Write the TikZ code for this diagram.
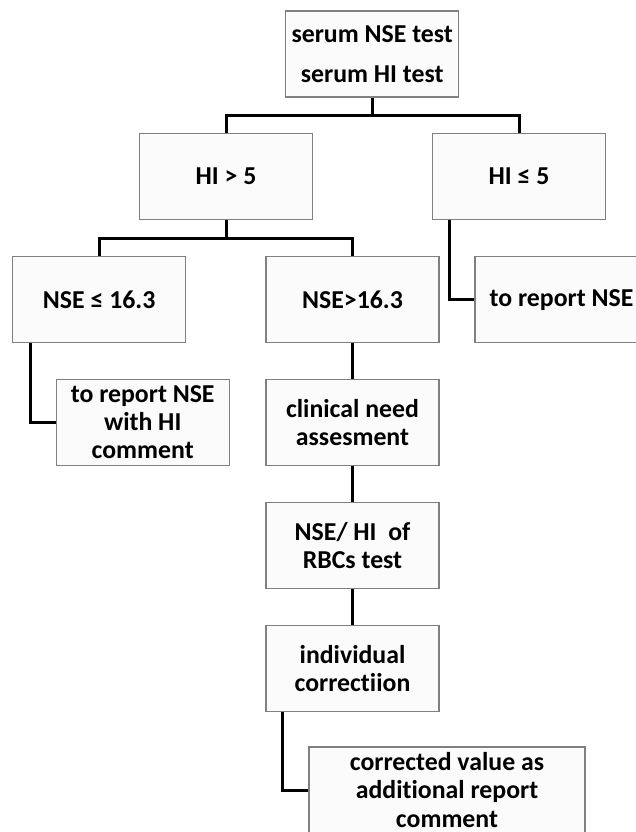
\documentclass[tikz,border=0pt]{standalone}
\usepackage{fontspec}
\setmainfont{Carlito}[Ligatures=NoCommon]
\definecolor{boxline}{HTML}{808080}
\definecolor{boxfill}{HTML}{FBFBFB}
\begin{document}
\begin{tikzpicture}[x=1pt,y=-1pt,
  stepbox/.style={draw=boxline, fill=boxfill, line width=1.2pt, rectangle,
    minimum width=173pt, minimum height=86pt, inner sep=0pt, align=center,
    font=\fontsize{25.8}{28.2}\selectfont\bfseries},
  link/.style={draw=black, line width=3pt}]
\useasboundingbox (0,0) rectangle (636,832);
\clip (0,0) rectangle (636,832);
\node[stepbox] (top) at (372.2,54) {serum NSE test\\[11.8pt]serum HI test};
\node[stepbox] (hi5) at (226,176.6) {HI > 5};
\node[stepbox] (hile5) at (519,176.6) {HI ≤ 5};
\node[stepbox] (nsele) at (99.2,299.6) {NSE ≤ 16.3};
\node[stepbox] (nsegt) at (352.5,299.6) {NSE>16.3};
\node[stepbox] (rep) at (561.5,299.6) {to report NSE};
\node[stepbox] (rephi) at (142.7,422.3) {to report NSE\\with HI\\comment};
\node[stepbox] (clin) at (352.5,422.3) {clinical need\\assesment};
\node[stepbox] (rbc) at (352.5,545.6) {NSE/ HI~~of\\RBCs test};
\node[stepbox] (indiv) at (352.5,668.2) {individual\\correctiion};
\node[stepbox, minimum width=276pt] (final) at (447,790) {corrected value as\\additional report\\comment};
\coordinate (j1) at (372.2,116);
\coordinate (j2) at (226,238.5);
\draw[link] (top.south) -- (j1);
\draw[link] (hi5.north) |- (j1) -| (hile5.north);
\draw[link] (hi5.south) -- (j2);
\draw[link] (nsele.north) |- (j2) -| (nsegt.north);
\draw[link] ([xshift=17.5pt]hile5.south west) |- (rep.west);
\draw[link] ([xshift=18.4pt]nsele.south west) |- (rephi.west);
\draw[link] (nsegt.south) -- (clin.north);
\draw[link] (clin.south) -- (rbc.north);
\draw[link] (rbc.south) -- (indiv.north);
\draw[link] ([xshift=17pt]indiv.south west) |- (final.west);
\end{tikzpicture}
\end{document}
